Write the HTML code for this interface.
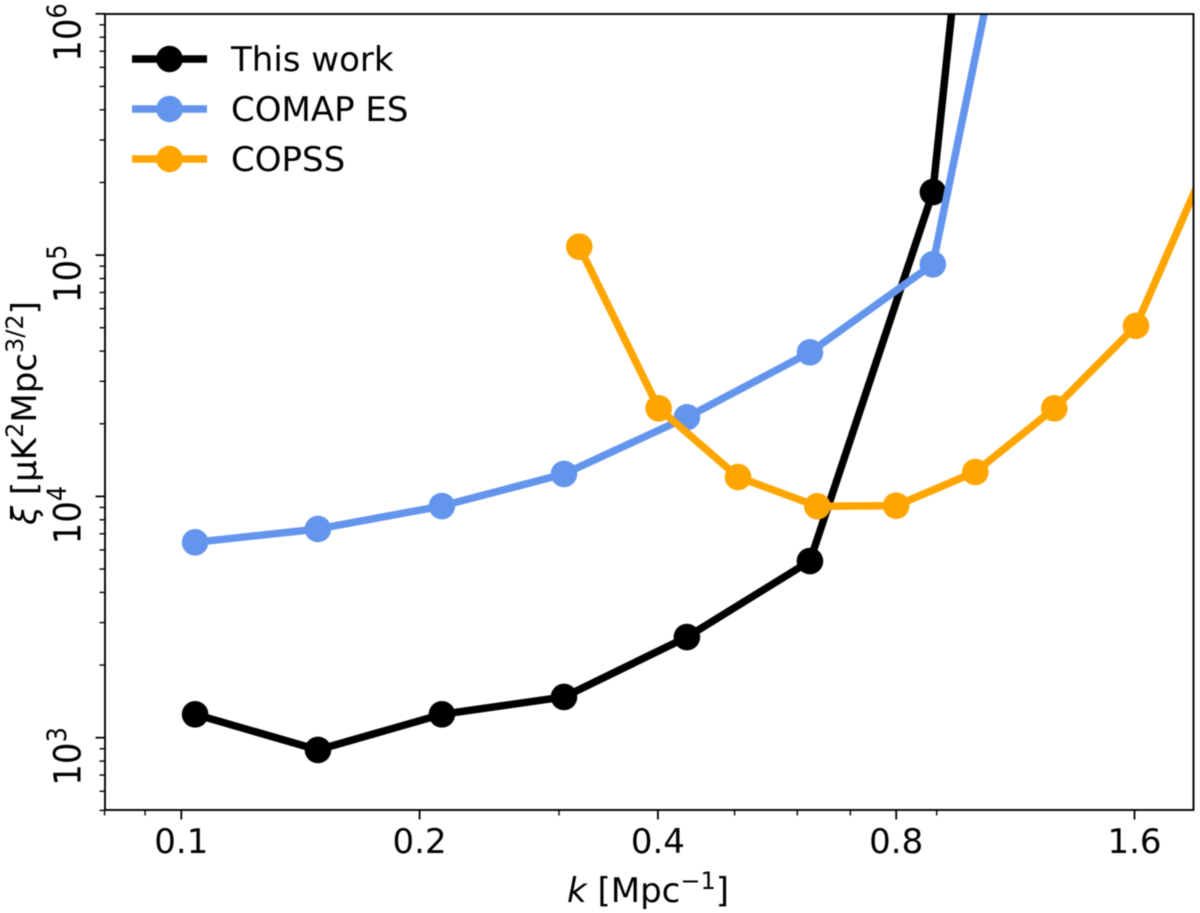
<!DOCTYPE html>
<html lang="en">
<head>
<meta charset="utf-8">
<title>Sensitivity chart</title>
<style>
  html, body { margin: 0; padding: 0; background: #fff; }
  body { width: 1200px; height: 913px; overflow: hidden; }
  svg { display: block; filter: blur(0.5px); }
  text { font-family: "DejaVu Sans", "Liberation Sans", sans-serif; fill: #000; }
</style>
</head>
<body>
<svg id="chart" xmlns="http://www.w3.org/2000/svg" width="1200" height="913" viewBox="0 0 1200 913">
  <defs>
    <clipPath id="plot-clip"><rect x="105" y="14" width="1088.5" height="796"></rect></clipPath>
  </defs>
  <rect x="0" y="0" width="1200" height="913" fill="#ffffff"></rect>
  <g id="series-layer" clip-path="url(#plot-clip)"></g>
  <g id="tick-layer"></g>
  <rect x="105" y="14" width="1088.5" height="796" fill="none" stroke="#000" stroke-width="1.9"></rect>

  <text x="648" y="902" font-size="34" text-anchor="middle"><tspan font-style="italic">k</tspan> [Mpc<tspan font-size="24" dy="-13">−1</tspan><tspan dy="13">]</tspan></text>
  <text transform="translate(36 413) rotate(-90)" font-size="34" text-anchor="middle"><tspan font-style="italic">ξ</tspan> [μK<tspan font-size="24" dy="-13">2</tspan><tspan dy="13">Mpc</tspan><tspan font-size="24" dy="-13">3/2</tspan><tspan dy="13">]</tspan></text>

  <g>
    <g>
      <line x1="132" y1="59" x2="207" y2="59" stroke="#000000" stroke-width="7.5"></line>
      <circle cx="169.5" cy="59" r="13.3" fill="#000000"></circle>
      <text x="231" y="71" font-size="34">This work</text>
    </g>
    <g>
      <line x1="132" y1="109" x2="207" y2="109" stroke="#6495ed" stroke-width="7.5"></line>
      <circle cx="169.5" cy="109" r="13.3" fill="#6495ed"></circle>
      <text x="231" y="121" font-size="34">COMAP ES</text>
    </g>
    <g>
      <line x1="132" y1="159" x2="207" y2="159" stroke="#ffa500" stroke-width="7.5"></line>
      <circle cx="169.5" cy="159" r="13.3" fill="#ffa500"></circle>
      <text x="231" y="171" font-size="34">COPSS</text>
    </g>
  </g>
</svg>
<script>
const xMajorTicks = [0.1, 0.2, 0.4, 0.8, 1.6];
const xMajorLabels = ["0.1", "0.2", "0.4", "0.8", "1.6"];
const xMinorTicks = [0.08, 0.09, 0.3, 0.5, 0.6, 0.7, 0.9];
const yMajorTicks = [1e3, 1e4, 1e5, 1e6];
const yMajorExponents = ["3", "4", "5", "6"];
const yMinorTicks = [500, 600, 700, 800, 900,
  2e3, 3e3, 4e3, 5e3, 6e3, 7e3, 8e3, 9e3,
  2e4, 3e4, 4e4, 5e4, 6e4, 7e4, 8e4, 9e4,
  2e5, 3e5, 4e5, 5e5, 6e5, 7e5, 8e5, 9e5];

const thisWorkK = [0.1041, 0.1488, 0.2134, 0.3044, 0.4352, 0.6225, 0.890, 1.273];
const thisWorkXi = [1250, 890, 1250, 1475, 2612, 5395, 182500, 1.34e10];
const comapK = [0.1041, 0.1488, 0.2134, 0.3044, 0.4352, 0.6225, 0.890, 1.273];
const comapXi = [6452, 7328, 9120, 12390, 21280, 39530, 91600, 2.84e7];
const copssK = [0.3182, 0.4009, 0.505, 0.636, 0.80, 1.007, 1.267, 1.607, 2.02];
const copssXi = [108400, 23170, 12030, 9101, 9150, 12620, 23170, 50900, 284000];

const NS = "http://www.w3.org/2000/svg";
function xAt(v) { return 181.3 + 238.3 * Math.log2(v / 0.1); }
function yAt(v) { return 737.7 - 241.3 * (Math.log10(v) - 3); }

const seriesLayer = document.getElementById("series-layer");
const tickLayer = document.getElementById("tick-layer");

function drawSeries(name, color, ks, xis) {
  const g = document.createElementNS(NS, "g");
  
  
  const pts = ks.map(function (k, i) { return xAt(k).toFixed(2) + "," + yAt(xis[i]).toFixed(2); });
  const line = document.createElementNS(NS, "polyline");
  
  
  line.setAttribute("points", pts.join(" "));
  line.setAttribute("fill", "none");
  line.setAttribute("stroke", color);
  line.setAttribute("stroke-width", "7.5");
  line.setAttribute("stroke-linejoin", "round");
  g.appendChild(line);
  ks.forEach(function (k, i) {
    const c = document.createElementNS(NS, "circle");
    
    
    c.setAttribute("cx", xAt(k).toFixed(2));
    c.setAttribute("cy", yAt(xis[i]).toFixed(2));
    c.setAttribute("r", "13.3");
    c.setAttribute("fill", color);
    g.appendChild(c);
  });
  seriesLayer.appendChild(g);
}
drawSeries("this-work", "#000000", thisWorkK, thisWorkXi);
drawSeries("comap-es", "#6495ed", comapK, comapXi);
drawSeries("copss", "#ffa500", copssK, copssXi);

function tickMark(name, x1, y1, x2, y2, w) {
  const l = document.createElementNS(NS, "line");
  
  
  l.setAttribute("x1", x1);
  l.setAttribute("y1", y1);
  l.setAttribute("x2", x2);
  l.setAttribute("y2", y2);
  l.setAttribute("stroke", "#000");
  l.setAttribute("stroke-width", w);
  tickLayer.appendChild(l);
}

xMinorTicks.forEach(function (v) {
  tickMark("x-minor-tick", xAt(v), 810, xAt(v), 815.5, 1.4);
});
xMajorTicks.forEach(function (v, i) {
  tickMark("x-major-tick", xAt(v), 810, xAt(v), 819.5, 1.8);
  const t = document.createElementNS(NS, "text");
  
  
  t.setAttribute("x", xAt(v));
  t.setAttribute("y", 853);
  t.setAttribute("font-size", "34");
  t.setAttribute("text-anchor", "middle");
  t.textContent = xMajorLabels[i];
  tickLayer.appendChild(t);
});
yMinorTicks.forEach(function (v) {
  tickMark("y-minor-tick", 105, yAt(v), 99.5, yAt(v), 1.4);
});
yMajorTicks.forEach(function (v, i) {
  tickMark("y-major-tick", 105, yAt(v), 95.5, yAt(v), 1.8);
  const t = document.createElementNS(NS, "text");
  
  
  t.setAttribute("transform", "translate(80.5 " + (yAt(v) + 48) + ") rotate(-90) scale(1 1.1)");
  t.setAttribute("font-size", "34");
  t.appendChild(document.createTextNode("10"));
  const sup = document.createElementNS(NS, "tspan");
  sup.setAttribute("font-size", "24");
  sup.setAttribute("dy", "-13");
  sup.textContent = yMajorExponents[i];
  t.appendChild(sup);
  tickLayer.appendChild(t);
});
</script>
</body>
</html>
